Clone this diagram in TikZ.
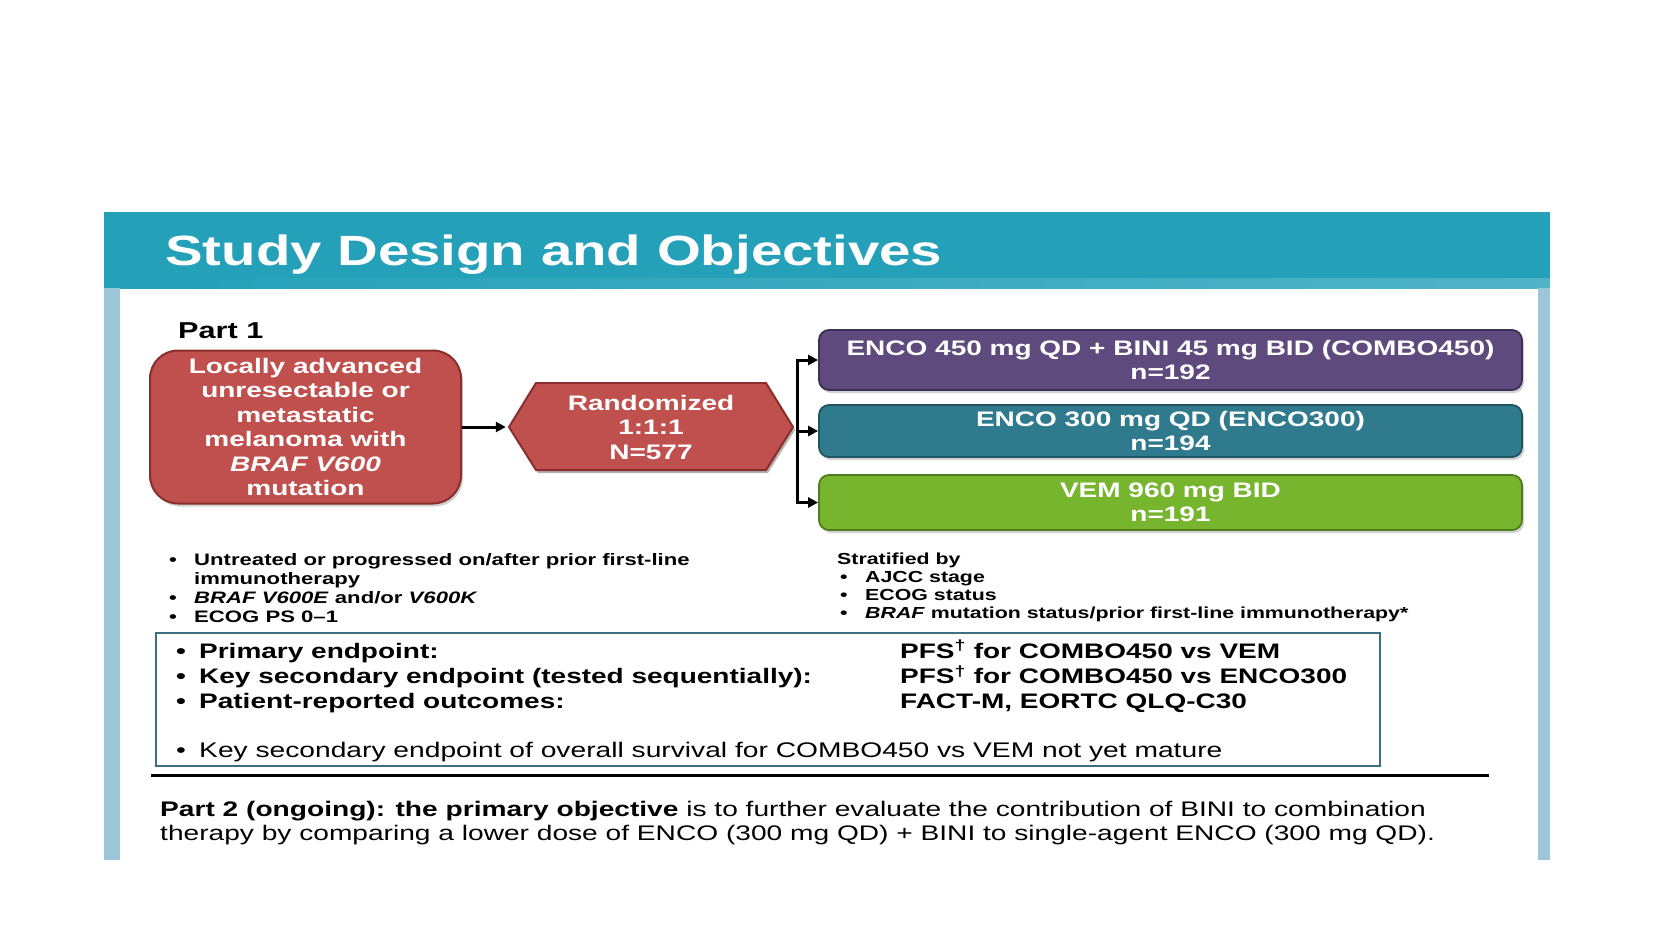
\documentclass[tikz,border=0pt]{standalone}
\usepackage{fontspec}
\setmainfont{Liberation Sans}[FakeStretch=1.333]
\usetikzlibrary{arrows.meta,shadows,calc}
\definecolor{titlebar}{HTML}{24A0B9}
\definecolor{sidebar}{HTML}{9DC6D8}
\definecolor{redfill}{HTML}{C0504D}
\definecolor{redline}{HTML}{8A2E2C}
\definecolor{purplefill}{HTML}{5E4A7C}
\definecolor{purpleline}{HTML}{3E2F56}
\definecolor{tealfill}{HTML}{2F7A8D}
\definecolor{tealline}{HTML}{1F5563}
\definecolor{greenfill}{HTML}{77B52F}
\definecolor{greenline}{HTML}{4F7D1E}
\definecolor{boxline}{HTML}{3F6F7E}
\begin{document}
\begin{tikzpicture}[x=1pt,y=-1pt,
  arr/.style={line width=3pt,-{Triangle[length=10pt,width=10pt]}},
  forkline/.style={line width=3pt},
  bigfont/.style={font=\bfseries\fontsize{21}{24.5}\selectfont},
  smallfont/.style={font=\bfseries\fontsize{16.6}{19}\selectfont},
  stratfont/.style={font=\bfseries\fontsize{16}{18.3}\selectfont},
  shadowed/.style={drop shadow={shadow xshift=2pt,shadow yshift=-3pt,opacity=0.35}},
  armbox/.style={draw,line width=1.8pt,rounded corners=10pt,minimum width=703pt,
    text=white,align=center,bigfont,inner sep=0pt,shadowed},
  textline/.style={anchor=base west,inner sep=0pt}
]
\useasboundingbox (0,0) rectangle (1680,945);
\fill[white] (0,0) rectangle (1680,945);
% slide frame
\fill[titlebar] (104,212) rectangle (1550,278);
\shade[left color=titlebar,middle color=white,right color=titlebar!80] (104,278) rectangle (1550,288);
\fill[sidebar] (104,288) rectangle (120,860);
\fill[sidebar] (1538,288) rectangle (1550,860);

\node[textline,text=white,font=\bfseries\fontsize{42.3}{50}\selectfont] (title) at (165,265) {Study Design and Objectives};
\node[textline,font=\bfseries\fontsize{23}{27}\selectfont] (part1) at (178,338) {Part 1};

\node[draw=redline,fill=redfill,line width=2pt,rounded corners=28pt,minimum width=311,minimum height=153,
  text=white,align=center,bigfont,inner sep=0pt,shadowed] (pop) at (305.5,427)
  {Locally advanced\\unresectable or\\metastatic\\melanoma with\\\textit{BRAF V600}\\mutation};

% hexagon of the randomisation node
\fill[black,opacity=0.3] (511,430) -- (538,386) -- (768,386) -- (795,430) -- (768,473) -- (538,473) -- cycle;
\filldraw[fill=redfill,draw=redline,line width=2pt] (509,427) -- (536,383) -- (766,383) -- (793,427) -- (766,470) -- (536,470) -- cycle;
\node[minimum width=290,minimum height=94,inner sep=0pt,text=white,align=center,bigfont] (rand) at (651,427)
  {Randomized\\1:1:1\\N=577};

\node[armbox,fill=purplefill,draw=purpleline,minimum height=60] (arm1) at (1170.5,360)
  {ENCO 450 mg QD + BINI 45 mg BID (COMBO450)\\n=192};
\node[armbox,fill=tealfill,draw=tealline,minimum height=52] (arm2) at (1170.5,431)
  {ENCO 300 mg QD (ENCO300)\\n=194};
\node[armbox,fill=greenfill,draw=greenline,minimum height=55] (arm3) at (1170.5,502.5)
  {VEM 960 mg BID\\n=191};

\draw[arr] (pop.east) -- (rand.west);
\coordinate (fork) at ($(rand.east)+(1,0)$);
\draw[forkline] (rand.east) -- (fork);
\draw[arr] (fork) |- (arm1.west);
\draw[arr] (fork) |- (arm2.west);
\draw[arr] (fork) |- (arm3.west);

\node[textline,smallfont] (crit) at (169,565) {\begin{tabular}[t]{@{}p{25pt}@{}l@{}}
•&Untreated or progressed on/after prior first-line\\
&immunotherapy\\
•&\textit{BRAF V600E} and/or \textit{V600K}\\
•&ECOG PS 0–1\end{tabular}};

\node[textline,stratfont] (strat) at (837,564) {\begin{tabular}[t]{@{}p{28pt}@{}l@{}}
\multicolumn{2}{@{}l@{}}{Stratified by}\\
\hspace{3pt}•&AJCC stage\\
\hspace{3pt}•&ECOG status\\
\hspace{3pt}•&\textit{BRAF} mutation status/prior first-line immunotherapy*\end{tabular}};

\node[draw=boxline,line width=1.5pt,minimum width=1224,minimum height=133,inner sep=0pt] (endbox) at (768,699.5) {};
\node[textline,bigfont] (ends) at (176,658) {\begin{tabular}[t]{@{}p{23pt}@{}p{701pt}@{}l@{}}
•&Primary endpoint:&PFS\textsuperscript{†} for COMBO450 vs VEM\\
•&Key secondary endpoint (tested sequentially):&PFS\textsuperscript{†} for COMBO450 vs ENCO300\\
•&Patient-reported outcomes:&FACT-M, EORTC QLQ-C30\\[24.5pt]
\mdseries•&\multicolumn{2}{@{}l@{}}{\mdseries\fontsize{21.15}{24.5}\selectfont Key secondary endpoint of overall survival for COMBO450 vs VEM not yet mature}\end{tabular}};

\draw[line width=3pt] (151,775) -- (1489,775);

\node[textline,font=\fontsize{21.1}{24.5}\selectfont] (part2) at (160,816) {\begin{tabular}[t]{@{}l@{}}
\textbf{Part 2 (ongoing): the primary objective} is to further evaluate the contribution of BINI to combination\\
therapy by comparing a lower dose of ENCO (300 mg QD) + BINI to single-agent ENCO (300 mg QD).\end{tabular}};
\end{tikzpicture}
\end{document}
